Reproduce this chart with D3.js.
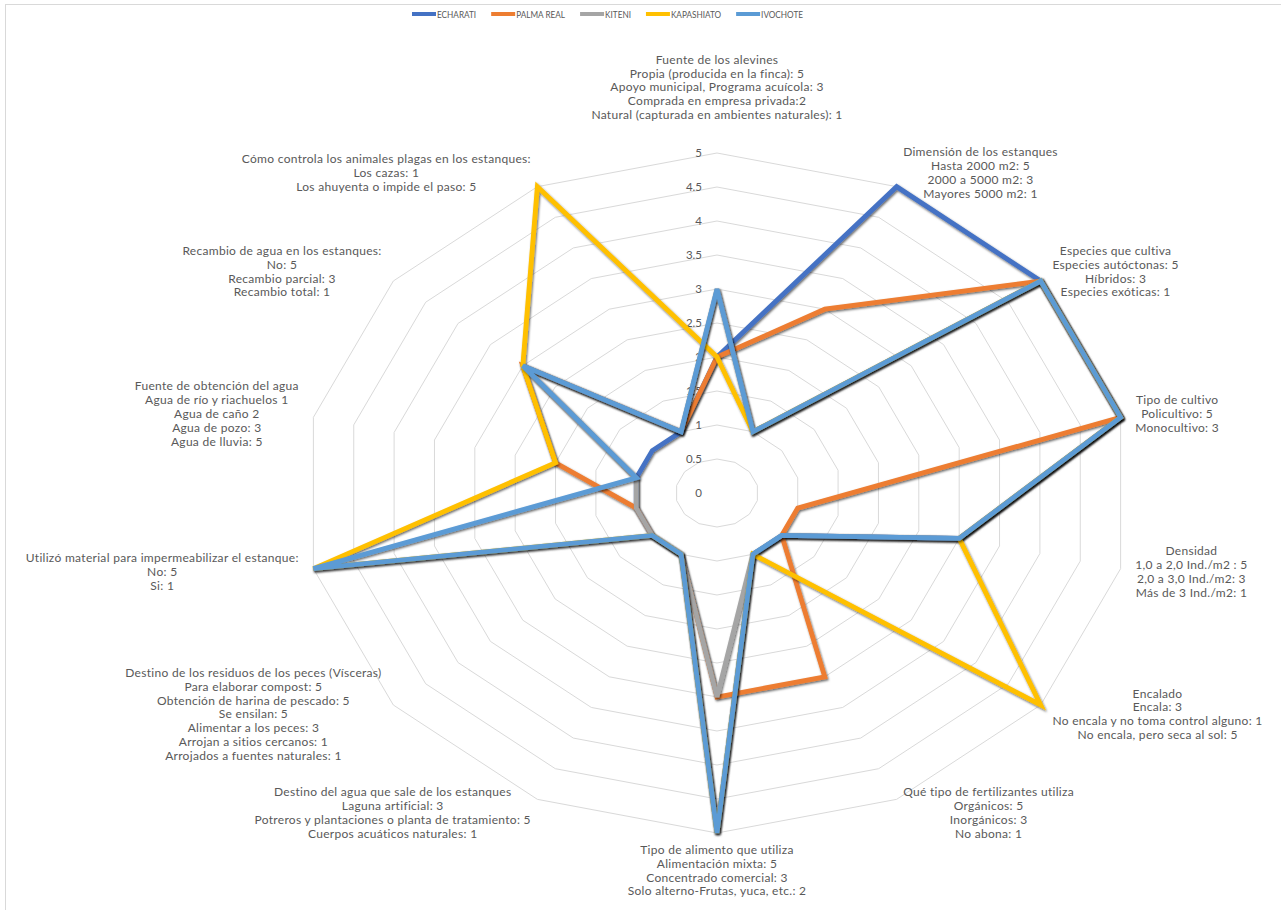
<!DOCTYPE html>
<html lang="es">
<head>
<meta charset="UTF-8">
<title>Radar - piscicultura</title>
<script src="https://d3js.org/d3.v7.min.js"></script>
<style>
  body { margin: 0; background: #fff; }
  svg { display: block; font-family: Lato, "Open Sans", sans-serif; }
</style>
</head>
<body>
<svg id="chart" width="1281" height="910"></svg>
<script>
// axis labels (one array of lines per spoke, clockwise from the top)
const axisLabels = [
  ["Fuente de los alevines", "Propia (producida en la finca): 5", "Apoyo municipal, Programa acuícola: 3", "Comprada en empresa privada:2", "Natural (capturada en ambientes naturales): 1"],
  ["Dimensión de los estanques", "Hasta 2000 m2: 5", "2000 a 5000 m2: 3", "Mayores 5000 m2: 1"],
  ["Especies que cultiva", "Especies autóctonas: 5", "Híbridos: 3", "Especies exóticas: 1"],
  ["Tipo de cultivo", "Policultivo: 5", "Monocultivo: 3"],
  ["Densidad", "1,0 a 2,0 Ind./m2 : 5", "2,0 a 3,0 Ind./m2: 3", "Más de 3 Ind./m2: 1"],
  ["Encalado", "Encala: 3", "No encala y no toma control alguno: 1", "No encala, pero seca al sol: 5"],
  ["Qué tipo de fertilizantes utiliza", "Orgánicos: 5", "Inorgánicos: 3", "No abona: 1"],
  ["Tipo de alimento que utiliza", "Alimentación mixta: 5", "Concentrado comercial: 3", "Solo alterno-Frutas, yuca, etc.: 2"],
  ["Destino del agua que sale de los estanques", "Laguna artificial: 3", "Potreros y plantaciones o planta de tratamiento: 5", "Cuerpos acuáticos naturales: 1"],
  ["Destino de los residuos de los peces (Vísceras)", "Para elaborar compost: 5", "Obtención de harina de pescado: 5", "Se ensilan: 5", "Alimentar a los peces: 3", "Arrojan a sitios cercanos: 1", "Arrojados a fuentes naturales: 1"],
  ["Utilizó material para impermeabilizar el estanque:", "No: 5", "Si: 1"],
  ["Fuente de obtención del agua", "Agua de río y riachuelos 1", "Agua de caño 2", "Agua de pozo: 3", "Agua de lluvia: 5"],
  ["Recambio de agua en los estanques:", "No: 5", "Recambio parcial: 3", "Recambio total: 1"],
  ["Cómo controla los animales plagas en los estanques:", "Los cazas: 1", "Los ahuyenta o impide el paso: 5"]
];

const seriesNames = ["ECHARATI", "PALMA REAL", "KITENI", "KAPASHIATO", "IVOCHOTE"];
const echarati   = [2, 5, 5, 5, 3, 1, 1, 5, 1, 1, 1, 1, 1, 1];
const palmaReal  = [2, 3, 5, 5, 1, 1, 3, 3, 1, 1, 1, 2, 3, 1];
const kiteni     = [3, 1, 5, 5, 3, 1, 1, 3, 1, 1, 1, 1, 3, 1];
const kapashiato = [2, 1, 5, 5, 3, 5, 1, 5, 1, 1, 5, 2, 3, 5];
const ivochote   = [3, 1, 5, 5, 3, 1, 1, 5, 1, 1, 5, 1, 3, 1];
const tickValues = [0, 0.5, 1, 1.5, 2, 2.5, 3, 3.5, 4, 4.5, 5];

const allSeries = [echarati, palmaReal, kiteni, kapashiato, ivochote];
const colors = ["#4472C4", "#ED7D31", "#A5A5A5", "#FFC000", "#5B9BD5"];

const svg = d3.select("#chart");
const n = axisLabels.length;
const cx = 717, cy = 493;
const lh = 13.8;

// chart is stretched horizontally, so x and y get their own radius scales
const rx = d3.scaleLinear().domain([0, 5]).range([0, 414]);
const ry = d3.scaleLinear().domain([0, 5]).range([0, 340]);
const angle = d3.scaleLinear().domain([0, n]).range([0, 2 * Math.PI]);

const px = (i, v) => cx + rx(v) * Math.sin(angle(i));
const py = (i, v) => cy - ry(v) * Math.cos(angle(i));

// drop shadow like the office preset
const defs = svg.append("defs");
defs.append("filter").attr("id", "shadow")
    .attr("x", "-10%").attr("y", "-10%").attr("width", "120%").attr("height", "120%")
  .append("feDropShadow")
    .attr("dx", 1).attr("dy", 1.5).attr("stdDeviation", 1)
    .attr("flood-color", "#000").attr("flood-opacity", 0.6);

// chart frame
svg.append("rect")
    .attr("x", 5.5).attr("y", 4.5).attr("width", 1400).attr("height", 1000)
    .attr("fill", "none").attr("stroke", "#d9d9d9");

// rings
const ring = d3.line()
    .x(d => d.x).y(d => d.y)
    .curve(d3.curveLinearClosed);

svg.append("g").selectAll("path")
    .data(tickValues.filter(t => t > 0))
    .join("path")
    .attr("d", t => ring(d3.range(n).map(i => ({ x: px(i, t), y: py(i, t) }))))
    .attr("fill", "none")
    .attr("stroke", "#d9d9d9")
    .attr("stroke-width", 1);

// tick labels
svg.append("g").selectAll("text")
    .data(tickValues)
    .join("text")
    .attr("x", cx - 15)
    .attr("y", t => cy - ry(t))
    .attr("dy", "0.35em")
    .attr("text-anchor", "end")
    .attr("fill", "#595959")
    .attr("font-size", 11.5)
    .text(t => t);

// series lines
const radarLine = d3.line()
    .x((v, i) => px(i, v))
    .y((v, i) => py(i, v))
    .curve(d3.curveLinearClosed);

svg.append("g").selectAll("path")
    .data(allSeries)
    .join("path")
    .attr("d", d => radarLine(d))
    .attr("fill", "none")
    .attr("stroke", (d, i) => colors[i])
    .attr("stroke-width", 4.8)
    .attr("stroke-linejoin", "miter")
    .attr("stroke-miterlimit", 4)
    .attr("filter", "url(#shadow)");

// axis category labels
const labelLayer = svg.append("g")
    .attr("fill", "#595959")
    .attr("font-size", 12)
    .attr("letter-spacing", 0.3);

axisLabels.forEach((lines, i) => {
  const a = angle(i), s = Math.sin(a), c = Math.cos(a);
  const tx = px(i, 5), ty = py(i, 5);
  const t = labelLayer.append("text").attr("text-anchor", "middle");
  lines.forEach((ln, j) => {
    t.append("tspan").attr("x", 0).attr("y", j * lh).text(ln);
  });
  const w = t.node().getBBox().width;
  const h = (lines.length - 1) * lh;
  let bx, by;
  if (Math.abs(s) < 0.01) {
    bx = tx;
    by = ty - Math.sign(c) * ((h + 8) / 2 + (c > 0 ? 34 : 13));
  } else {
    bx = tx + Math.sign(s) * (w / 2 + 15 * Math.abs(s));
    by = ty - 15 * c;
  }
  t.attr("transform", `translate(${bx},${by - h / 2 + 4})`);
});

// legend (text squeezed a little, the original font is narrow)
const legend = svg.append("g").attr("font-size", 10).attr("fill", "#595959");
const items = legend.selectAll("g")
    .data(seriesNames)
    .join("g");
items.append("line")
    .attr("x1", 0).attr("x2", 24)
    .attr("y1", 0).attr("y2", 0)
    .attr("stroke", (d, i) => colors[i])
    .attr("stroke-width", 4);
items.append("text")
    .attr("x", 25)
    .attr("dy", "0.35em")
    .text(d => d)
    .each(function() {
      const len = this.getComputedTextLength() * 0.82;
      d3.select(this).attr("textLength", len).attr("lengthAdjust", "spacingAndGlyphs");
    });

const widths = [];
items.each(function() {
  widths.push(+d3.select(this).select("text").attr("textLength") + 25);
});
const total = d3.sum(widths) + 15 * (widths.length - 1);
let offset = 607.5 - total / 2;
items.attr("transform", (d, i) => {
  const x = offset;
  offset += widths[i] + 15;
  return `translate(${x},14)`;
});
</script>
</body>
</html>
